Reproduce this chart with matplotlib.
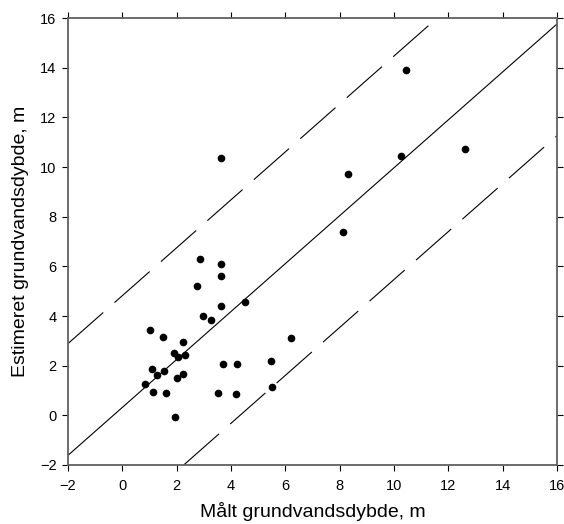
import numpy as np
from matplotlib import pyplot as plt

plt.rcParams["font.family"] = ["Liberation Sans", "DejaVu Sans"]
plt.rcParams["lines.scale_dashes"] = False

# measured vs estimated groundwater depth (m)
maalt = [2.86, 3.63, 3.64, 2.74, 4.51, 3.62, 2.97, 3.26, 1.02, 1.50,
         2.23, 6.20, 1.91, 2.06, 2.32, 1.09, 1.26, 1.53, 2.24, 2.00,
         3.69, 4.23, 5.48, 0.83, 1.13, 1.60, 3.52, 4.19, 5.51, 1.94,
         3.63, 10.44, 10.24, 12.60, 8.32, 8.12]
estimeret = [6.31, 6.08, 5.61, 5.20, 4.58, 4.39, 4.01, 3.83, 3.42, 3.17,
             2.94, 3.10, 2.50, 2.34, 2.43, 1.85, 1.61, 1.77, 1.66, 1.52,
             2.08, 2.08, 2.20, 1.25, 0.95, 0.90, 0.90, 0.87, 1.13, -0.08,
             10.37, 13.91, 10.43, 10.74, 9.73, 7.38]

# fitted line and band
slope = 0.965
intercept = 0.32
band = 4.5

lo, hi = -2, 16
ticks = list(range(-2, 17, 2))


def line_span(b):
    x0 = max(lo, (lo - b) / slope)
    x1 = min(hi, (hi - b) / slope)
    return np.array([x0, x1])


fig = plt.figure(figsize=(5.64, 5.24), dpi=100)
ax = fig.add_axes([0.1206, 0.1126, 0.867, 0.853])

xs = line_span(intercept)
ax.plot(xs, slope * xs + intercept, color="black", lw=0.8)
for off in (band, -band):
    xs = line_span(intercept + off)
    ax.plot(xs, slope * xs + intercept + off, color="black", lw=0.8,
            linestyle=(0, (33.8, 10.8)))

ax.plot(maalt, estimeret, "o", color="black", markersize=4.5, zorder=3)

ax.set_xlim(lo, hi)
ax.set_ylim(lo, hi)
ax.set_xticks(ticks)
ax.set_yticks(ticks)
ax.tick_params(direction="out", length=4.3, width=0.8, labelsize=10.5,
               top=True, right=True, pad=4)
ax.tick_params(axis="x", pad=6)
for s in ax.spines.values():
    s.set_color("#606060")
    s.set_linewidth(1.3)

ax.set_xlabel("Målt grundvandsdybde, m", fontsize=14, labelpad=6)
ax.set_ylabel("Estimeret grundvandsdybde, m", fontsize=14, labelpad=8)

fig.savefig("out.png", dpi=100)
